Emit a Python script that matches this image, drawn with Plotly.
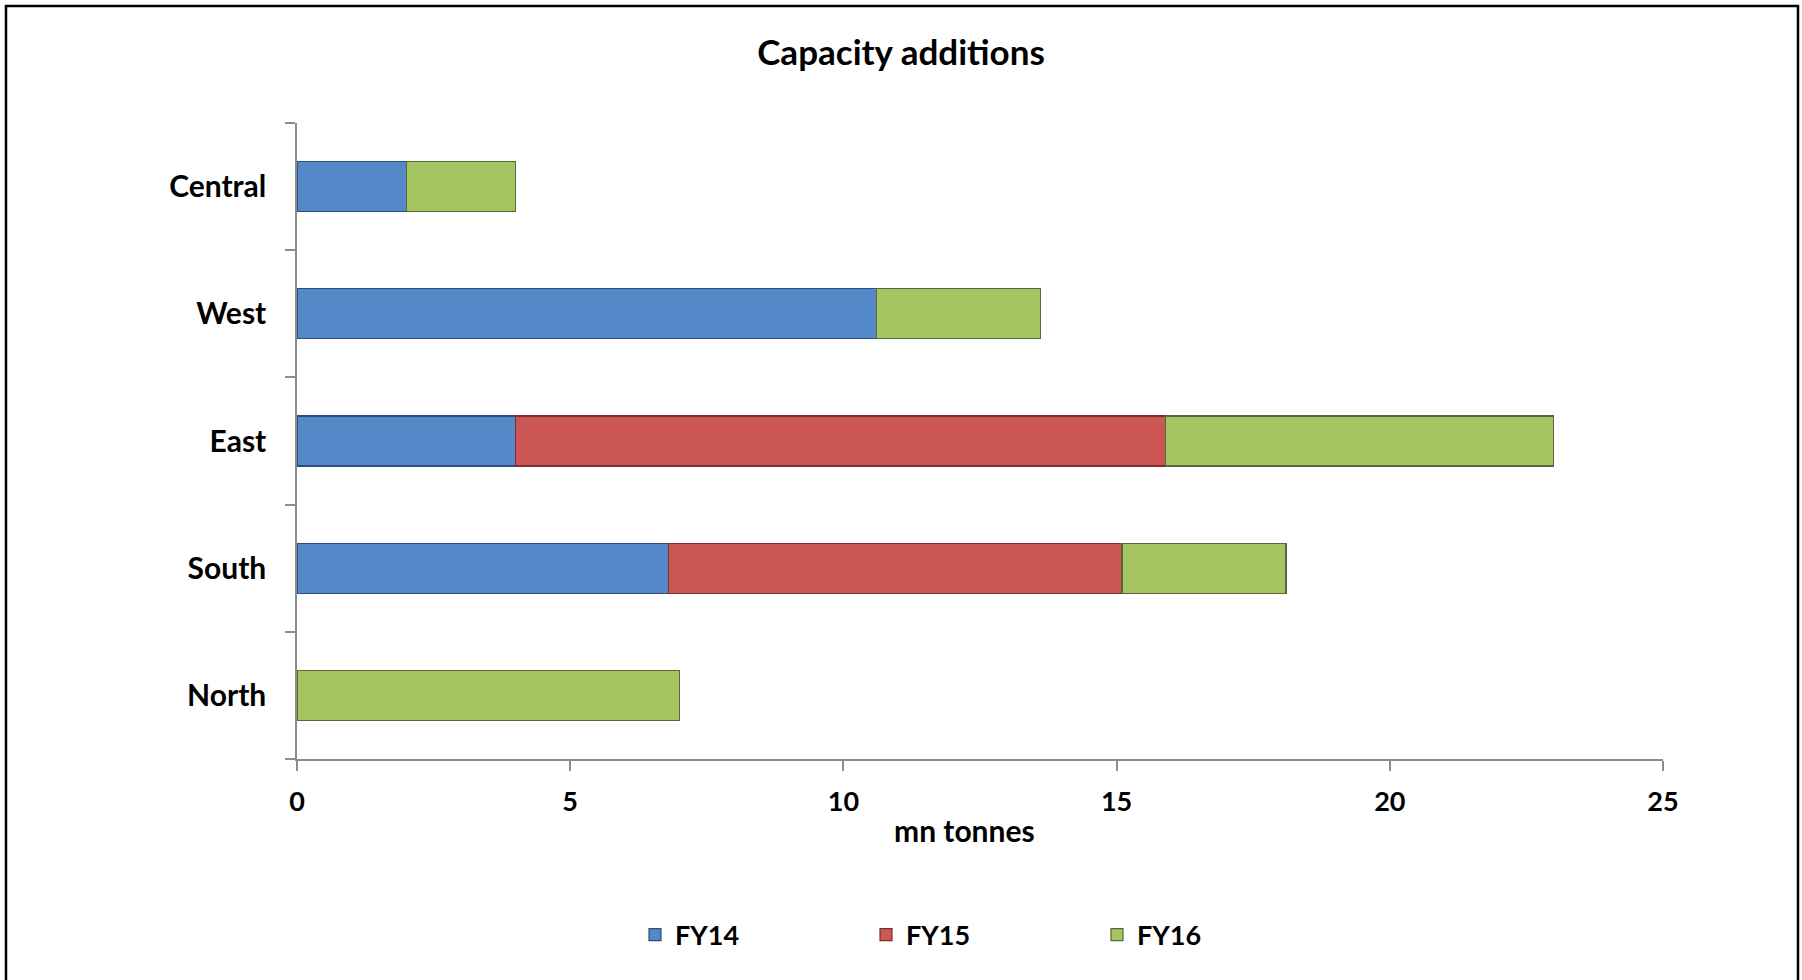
import plotly.graph_objects as go

# Regions, listed bottom to top
regions = ["North", "South", "East", "West", "Central"]

# Capacity additions by fiscal year (mn tonnes)
fy14 = [0.0, 6.8, 4.0, 10.6, 2.0]
fy15 = [0.0, 8.3, 11.9, 0.0, 0.0]
fy16 = [7.0, 3.0, 7.1, 3.0, 2.0]

series = [
    ("FY14", fy14, "#5588C8", "#2E4F78"),
    ("FY15", fy15, "#CC5654", "#7A2F2E"),
    ("FY16", fy16, "#A5C462", "#55693A"),
]

x_ticks = [0, 5, 10, 15, 20, 25]

FONT = "Lato, 'Open Sans', sans-serif"
W, H = 1802, 980
L, R, T, B = 297, 139, 123, 221

fig = go.Figure()
for name, vals, fill, edge in series:
    fig.add_trace(go.Bar(
        y=regions, x=vals, name=name, orientation="h",
        marker=dict(color=fill, line=dict(color=edge, width=1.2)),
    ))

plot_w = W - L - R
plot_h = H - T - B

fig.update_layout(
    width=W, height=H,
    margin=dict(l=L, r=R, t=T, b=B, autoexpand=False),
    barmode="stack",
    bargap=0.607,
    plot_bgcolor="white",
    paper_bgcolor="white",
    font=dict(family=FONT, size=27, color="black", weight="bold"),
    title=dict(
        text="<b>Capacity additions</b>",
        x=901 / W, xanchor="center",
        y=1 - 53 / H, yanchor="middle",
        font=dict(family=FONT, size=35, color="black"),
    ),
    xaxis=dict(
        range=[0, 25], tickvals=x_ticks,
        showgrid=False, zeroline=False,
        showline=True, linecolor="#8C8C8C", linewidth=1.5,
        ticks="outside", ticklen=10, tickwidth=1.5, tickcolor="#8C8C8C",
        tickfont=dict(family=FONT, size=27, color="black", weight="bold"),
        ticklabelstandoff=8,
    ),
    yaxis=dict(
        categoryorder="array", categoryarray=regions,
        range=[-0.5, 4.5],
        showgrid=False, zeroline=False,
        showline=True, linecolor="#8C8C8C", linewidth=1.5,
        ticks="outside", ticklen=10, tickwidth=1.5, tickcolor="#8C8C8C",
        tickson="boundaries",
        tickfont=dict(family=FONT, size=30, color="black", weight="bold"),
        ticklabelstandoff=23,
    ),
    legend=dict(
        orientation="h",
        x=(635 - L) / plot_w, xanchor="left",
        y=(H - B - 935) / plot_h, yanchor="middle",
        entrywidth=186, entrywidthmode="pixels",
        font=dict(family=FONT, size=27, color="black", weight="bold"),
        traceorder="normal",
        bgcolor="rgba(0,0,0,0)",
    ),
    showlegend=True,
)

# Axis title under the value axis
fig.add_annotation(
    text="<b>mn tonnes</b>",
    xref="paper", yref="paper",
    x=(964 - L) / plot_w, y=(H - B - 830) / plot_h,
    xanchor="center", yanchor="middle",
    showarrow=False,
    font=dict(family=FONT, size=30, color="black"),
)

# Outer chart frame
def px_x(p):
    return (p - L) / plot_w

def px_y(p):
    return (H - B - p) / plot_h

fig.add_shape(
    type="rect", xref="paper", yref="paper",
    x0=px_x(6), x1=px_x(1798), y0=px_y(6), y1=px_y(H + 20),
    line=dict(color="black", width=2.5), fillcolor="rgba(0,0,0,0)",
    layer="above",
)

fig.write_html("out.html")
